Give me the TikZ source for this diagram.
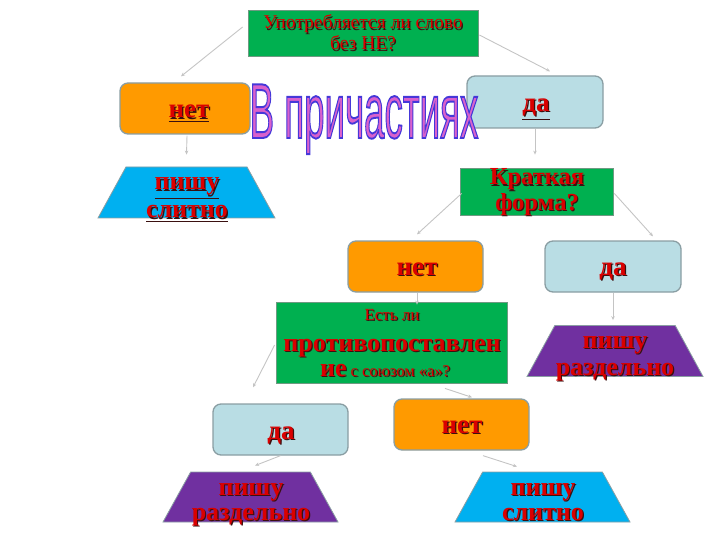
\documentclass[tikz,border=0pt]{standalone}
\usepackage{fontspec}
\setmainfont{Liberation Serif}
\newfontfamily\ttlfont[FakeBold=2.5]{Liberation Sans}
\usetikzlibrary{shapes.geometric,arrows.meta}
\definecolor{gr}{HTML}{00B050}
\definecolor{grb}{HTML}{6E9A82}
\definecolor{org}{HTML}{FF9A00}
\definecolor{lbl}{HTML}{B9DDE4}
\definecolor{cyn}{HTML}{00B0F0}
\definecolor{prp}{HTML}{7030A0}
\definecolor{bord}{HTML}{8A9EA3}
\definecolor{txtred}{HTML}{DA0000}
\definecolor{shd}{HTML}{3A1010}
\definecolor{lgray}{HTML}{C4C4C4}
\definecolor{ttlfill}{HTML}{C85AC8}
\newcommand{\sh}[1]{\makebox[0pt][l]{\hspace{1.2pt}\raisebox{-1.2pt}{\textcolor{shd}{#1}}}\textcolor{txtred}{#1}}
\newcommand{\ttltext}{\scalebox{0.47}[1]{\ttlfont\fontsize{78}{80}\selectfont\special{pdf:bcolor [0.85 0.38 0.80] [0.27 0.22 0.85]}В причастиях\special{pdf:ecolor}}}
\tikzset{
  rbox/.style={draw=bord, line width=1.3pt, rounded corners=8pt, inner sep=0pt,
    minimum width=135pt, minimum height=51pt},
  gbox/.style={draw=grb, fill=gr, line width=0.8pt, inner sep=0pt},
  trap/.style={trapezium, trapezium stretches=true, trapezium left angle=77,
    trapezium right angle=77, draw=bord, line width=0.8pt, inner sep=1pt,
    minimum width=176pt, minimum height=51pt},
  big/.style={anchor=base, inner sep=0pt, text=shd, font=\bfseries\fontsize{27}{28}\selectfont},
  mid/.style={anchor=base, inner sep=0pt, text=shd, font=\bfseries\fontsize{26}{28}\selectfont},
  small/.style={anchor=base, inner sep=0pt, text=shd, font=\fontsize{16}{18}\selectfont},
  conn/.style={draw=lgray, line width=0.9pt, -{Stealth[length=4pt,width=3.5pt]}},
  ttl/.style={inner sep=0pt, anchor=base}
}
\begin{document}
\begin{tikzpicture}[x=1pt,y=-1pt]
\useasboundingbox (0,0) rectangle (720,540);
% top question
\node[gbox, minimum width=230pt, minimum height=46pt] (q1) at (363,33) {};
\node[small, font=\fontsize{19.5}{21}\selectfont] (q1a) at (363,29) {\sh{Употребляется ли слово}};
\node[small, font=\fontsize{19.5}{21}\selectfont] (q1b) at (363,50) {\sh{без НЕ?}};
% first level
\node[rbox, fill=org, minimum width=130pt] (n1) at (185,108.5) {};
\node[big] (n1t) at (189,118) {\underline{\sh{нет}}};
\node[rbox, fill=lbl, minimum width=136pt, minimum height=52pt] (d1) at (535,102) {};
\node[big] (d1t) at (536,111.5) {\underline{\sh{да}}};
% title
\node[ttl, text=ttlfill] (title) at (364,138) {\ttltext};
% second level
\node[trap, fill=cyn, minimum width=177pt] (s1) at (186.5,192.5) {};
\node[mid] (s1a) at (187,190) {\underline{\sh{пишу}}};
\node[mid] (s1b) at (187,218) {\underline{\sh{слитно}}};
\node[gbox, minimum width=153pt, minimum height=47pt] (q2) at (536.5,191.5) {};
\node[mid, font=\bfseries\fontsize{24.5}{26}\selectfont] (q2a) at (537,185) {\sh{Краткая}};
\node[mid, font=\bfseries\fontsize{24.5}{26}\selectfont] (q2b) at (537,210.5) {\sh{форма?}};
% third level
\node[rbox, fill=org] (n2) at (415.5,266.5) {};
\node[big] (n2t) at (417,275) {\sh{нет}};
\node[rbox, fill=lbl, minimum width=136pt] (d2) at (613,266.5) {};
\node[big] (d2t) at (613,275) {\sh{да}};
\node[gbox, minimum width=231pt, minimum height=81pt] (q3) at (391.5,342.5) {};
\node[small, font=\fontsize{17}{18}\selectfont] (q3a) at (392,320.5) {\sh{Есть ли}};
\node[mid] (q3b) at (392,351.5) {\sh{противопоставлен}};
\node[anchor=base, inner sep=0pt, text=shd] (q3c) at (385,376.5) {{\bfseries\fontsize{26}{28}\selectfont\sh{ие}}\hspace{4pt}{\fontsize{16.5}{18}\selectfont\sh{с союзом «а»?}}};
\node[trap, fill=prp] (r1) at (615,351) {};
\node[mid] (r1a) at (615,348) {\sh{пишу}};
\node[mid] (r1b) at (615,375) {\sh{раздельно}};
% fourth level
\node[rbox, fill=lbl] (d3) at (280.5,429.5) {};
\node[big] (d3t) at (281,439.5) {\sh{да}};
\node[rbox, fill=org] (n3) at (461.5,424.5) {};
\node[big] (n3t) at (462,433.5) {\sh{нет}};
\node[trap, fill=prp, minimum width=175pt, minimum height=50pt] (r2) at (250.5,497) {};
\node[mid] (r2a) at (251,495) {\sh{пишу}};
\node[mid] (r2b) at (251,520.5) {\sh{раздельно}};
\node[trap, fill=cyn, minimum width=175pt, minimum height=50pt] (s2) at (542.5,497) {};
\node[mid] (s2a) at (543,495) {\sh{пишу}};
\node[mid] (s2b) at (543,520.5) {\sh{слитно}};
% connectors
\draw[conn] ([shift={(-5pt,6pt)}]q1.west) -- ([shift={(-4pt,6pt)}]n1.north);
\draw[conn] ([shift={(1pt,-2pt)}]q1.east) -- ([shift={(15pt,4pt)}]d1.north);
\draw[conn] ([shift={(2pt,-1pt)}]n1.south) -- ([shift={(0pt,12pt)}]s1.north);
\draw[conn] (d1.south) -- ([shift={(-1.5pt,13pt)}]q2.north);
\draw[conn] ([shift={(2pt,-2pt)}]q2.west) -- ([shift={(1.5pt,6pt)}]n2.north);
\draw[conn] ([shift={(1pt,-2pt)}]q2.east) -- ([shift={(40pt,4pt)}]d2.north);
\draw[conn] ([shift={(1.5pt,0pt)}]n2.south) -- ([shift={(25.5pt,-3pt)}]q3.north);
\draw[conn] (d2.south) -- ([shift={(-2pt,5pt)}]r1.north);
\draw[conn] ([shift={(-1pt,-2.5pt)}]q3.west) -- ([shift={(-27.5pt,16pt)}]d3.north);
\draw[conn] ([shift={(53.5pt,-5pt)}]q3.south) -- ([shift={(10.5pt,1pt)}]n3.north);
\draw[conn] (d3.south) -- ([shift={(4.5pt,6pt)}]r2.north);
\draw[conn] ([shift={(21.5pt,-5pt)}]n3.south) -- ([shift={(-25.5pt,5pt)}]s2.north);
\end{tikzpicture}
\end{document}
